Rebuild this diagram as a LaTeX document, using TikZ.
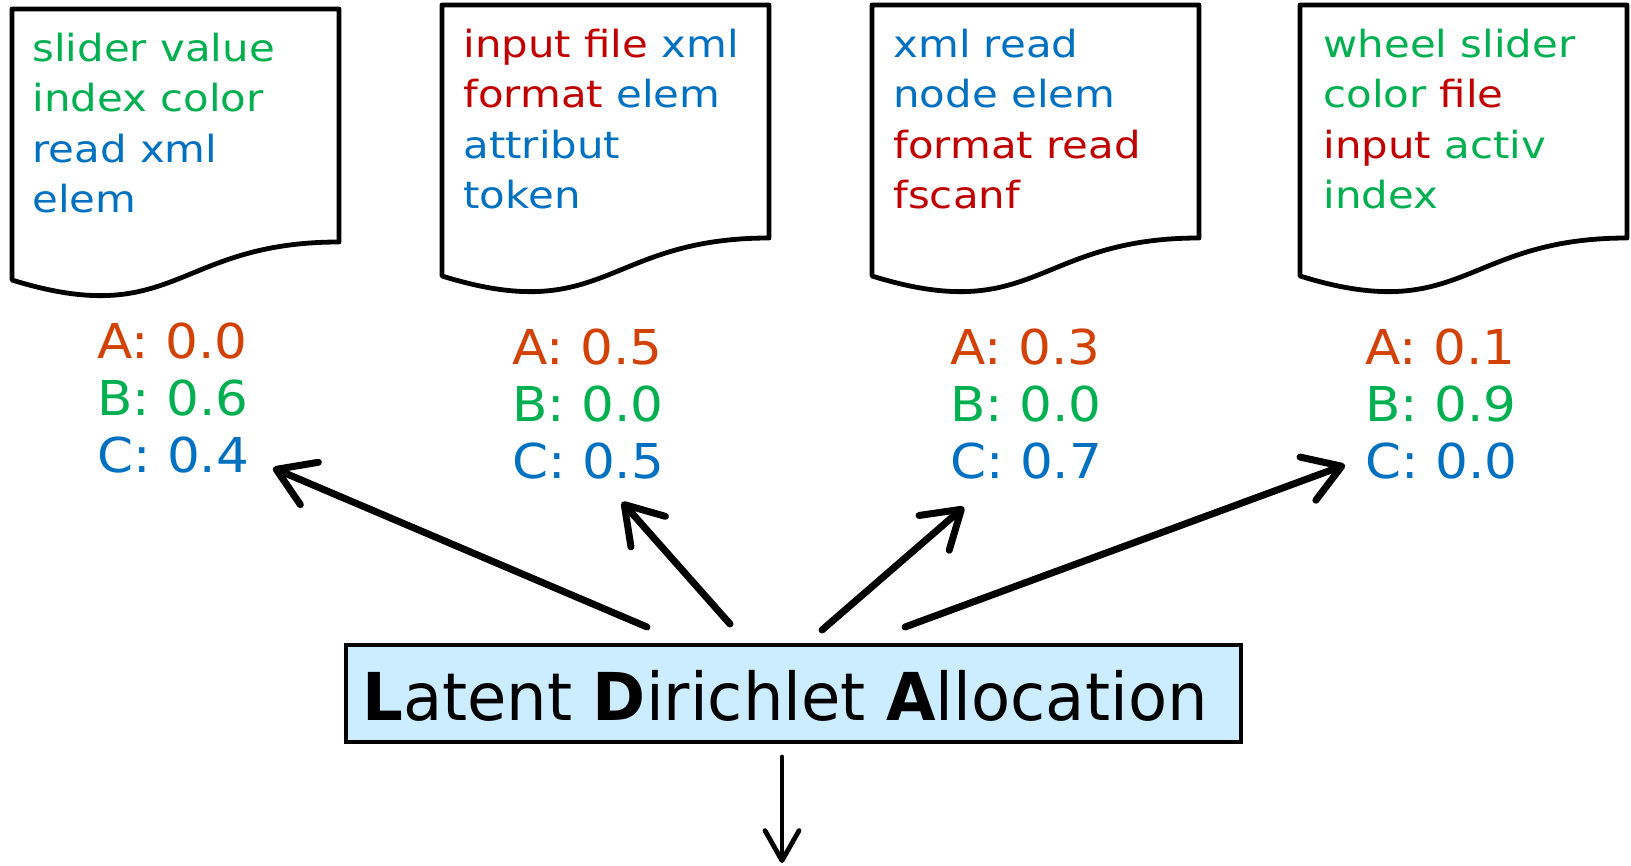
\documentclass[tikz,border=0pt]{standalone}
\usepackage{fontspec}
\setmainfont{DejaVu Sans}
\newfontfamily\docfont[FakeStretch=1.12]{DejaVu Sans}
\newfontfamily\probfont[FakeStretch=1.075]{DejaVu Sans}
\newfontfamily\ldafont[FakeStretch=0.97]{DejaVu Sans}
\usetikzlibrary{arrows.meta}
\definecolor{tgreen}{RGB}{0,176,80}
\definecolor{tblue}{RGB}{0,112,192}
\definecolor{tred}{RGB}{192,0,0}
\definecolor{torange}{RGB}{210,65,5}
\definecolor{ldafill}{RGB}{204,236,255}
\newcommand\drawdoc[2]{%
  \draw[docshape] (#1,#2) -- ({#1+327},#2) -- ({#1+327},{#2+233})
    .. controls ({#1+163.5},{#2+233}) and ({#1+163.5},{#2+321.7}) .. (#1,{#2+271}) -- cycle;}
\begin{document}
\begin{tikzpicture}[x=0.5pt,y=-0.5pt,
  docshape/.style={line width=2.4pt, draw=black, fill=white, line join=round},
  wline/.style={anchor=base west, inner sep=0pt, font=\docfont\fontsize{18.7}{22}\selectfont},
  pline/.style={anchor=base west, inner sep=0pt, font=\probfont\fontsize{24}{28}\selectfont},
  uparrow/.style={line width=3.5pt, line cap=round, line join=round,
    -{Straight Barb[length=18pt,width=23pt,line cap=round,round]}},
  downarrow/.style={line width=2.4pt, line cap=round, line join=round,
    -{Straight Barb[length=15pt,width=17pt,line cap=round,round]}},
]
\useasboundingbox (0,0) rectangle (1631,866);

% documents
\drawdoc{12}{9}
\drawdoc{442}{5}
\drawdoc{872}{5}
\drawdoc{1300}{5}

% document 1
\node[wline,text=tgreen] (d1a) at (32,62) {slider value};
\node[wline,text=tgreen] (d1b) at (32,112) {index color};
\node[wline,text=tblue] (d1c) at (32,163) {read xml};
\node[wline,text=tblue] (d1d) at (32,213) {elem};
% document 2
\node[wline] (d2a) at (463,58) {\textcolor{tred}{input file} \textcolor{tblue}{xml}};
\node[wline] (d2b) at (463,108) {\textcolor{tred}{format} \textcolor{tblue}{elem}};
\node[wline,text=tblue] (d2c) at (463,159) {attribut};
\node[wline,text=tblue] (d2d) at (463,209) {token};
% document 3
\node[wline,text=tblue] (d3a) at (893,58) {xml read};
\node[wline,text=tblue] (d3b) at (893,108) {node elem};
\node[wline,text=tred] (d3c) at (893,159) {format read};
\node[wline,text=tred] (d3d) at (893,209) {fscanf};
% document 4
\node[wline,text=tgreen] (d4a) at (1323,58) {wheel slider};
\node[wline] (d4b) at (1323,108) {\textcolor{tgreen}{color} \textcolor{tred}{file}};
\node[wline] (d4c) at (1323,159) {\textcolor{tred}{input} \textcolor{tgreen}{activ}};
\node[wline,text=tgreen] (d4d) at (1323,209) {index};

% topic proportions
\node[pline,text=torange] (p1a) at (97,358) {A: 0.0};
\node[pline,text=tgreen]  (p1b) at (97,415) {B: 0.6};
\node[pline,text=tblue]   (p1c) at (97,472) {C: 0.4};
\node[pline,text=torange] (p2a) at (512,364) {A: 0.5};
\node[pline,text=tgreen]  (p2b) at (512,421) {B: 0.0};
\node[pline,text=tblue]   (p2c) at (512,478) {C: 0.5};
\node[pline,text=torange] (p3a) at (950,364) {A: 0.3};
\node[pline,text=tgreen]  (p3b) at (950,421) {B: 0.0};
\node[pline,text=tblue]   (p3c) at (950,478) {C: 0.7};
\node[pline,text=torange] (p4a) at (1365,364) {A: 0.1};
\node[pline,text=tgreen]  (p4b) at (1365,421) {B: 0.9};
\node[pline,text=tblue]   (p4c) at (1365,478) {C: 0.0};

% LDA box
\node[draw=black, fill=ldafill, line width=2pt, minimum width=447.5pt, minimum height=48.5pt, inner sep=0pt] (lda) at (793.5,693.5) {};
\node[anchor=base west, inner sep=0pt, font=\ldafont\fontsize{33}{38}\selectfont] (ldatext) at (362,720)
  {\textbf{L}atent \textbf{D}irichlet \textbf{A}llocation};

% arrows
\coordinate (s1) at (647,627); \coordinate (t1) at (273,468);
\coordinate (s2) at (730,624); \coordinate (t2) at (622,502);
\coordinate (s3) at (822,630); \coordinate (t3) at (964,507);
\coordinate (s4) at (905,627); \coordinate (t4) at (1345,465);
\coordinate (s5) at (782,757); \coordinate (t5) at (782,863);
\draw[uparrow] (s1) -- (t1);
\draw[uparrow] (s2) -- (t2);
\draw[uparrow] (s3) -- (t3);
\draw[uparrow] (s4) -- (t4);
\draw[downarrow] (s5) -- (t5);
\end{tikzpicture}
\end{document}
